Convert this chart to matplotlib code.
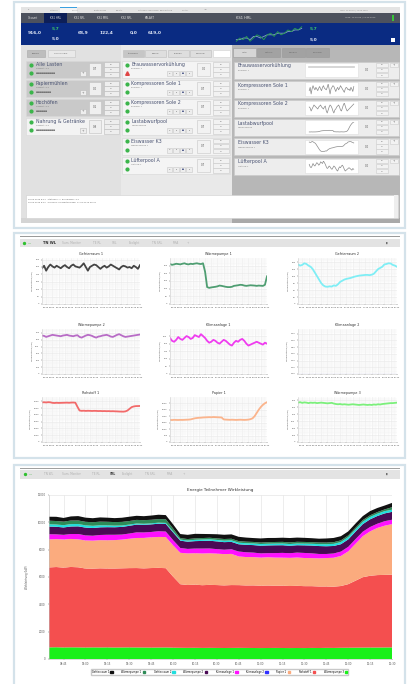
import numpy as np
import matplotlib
matplotlib.use('Agg')
import matplotlib.pyplot as plt
from matplotlib.patches import Rectangle
from matplotlib.ticker import MaxNLocator

# ---- data -------------------------------------------------------------
# 5-minute samples, 08:35 .. 12:30
minutes = 515 + 5 * np.arange(48)
tick_labels = ['08:45', '09:00', '09:15', '09:30', '09:45', '10:00', '10:15', '10:30',
               '10:45', '11:00', '11:15', '11:30', '11:45', '12:00', '12:15', '12:30']

gefrierraum1 = [290, 310, 270, 300, 320, 305, 295, 310, 300, 290,
                305, 315, 300, 290, 310, 320, 305, 300, 295, 310,
                330, 300, 270, 300, 310, 320, 315, 300, 285, 300,
                310, 295, 305, 320, 310, 300, 290, 280, 300, 310,
                305, 295, 300, 290, 310, 300, 285, 315]
waermepumpe1 = [260, 255, 258, 262, 260, 258, 262, 265, 260, 258,
                262, 260, 263, 265, 262, 260, 265, 210, 110, 105,
                108, 110, 112, 115, 120, 118, 115, 112, 110, 110,
                112, 118, 120, 122, 125, 124, 120, 118, 120, 122,
                121, 120, 118, 120, 119, 118, 125, 180]
gefrierraum2 = [170, 165, 168, 175, 172, 165, 160, 150, 135, 120,
                105, 90, 80, 75, 74, 76, 75, 80, 78, 85,
                95, 100, 105, 108, 110, 112, 115, 118, 120, 122,
                123, 124, 125, 125, 124, 126, 130, 140, 150, 155,
                160, 170, 172, 175, 174, 168, 165, 160]
waermepumpe2 = [560, 555, 540, 550, 560, 570, 565, 560, 555, 550,
                560, 565, 570, 560, 555, 550, 560, 565, 540, 530,
                545, 560, 570, 565, 555, 540, 530, 545, 550, 560,
                565, 570, 560, 545, 540, 555, 570, 580, 565, 550,
                540, 545, 550, 555, 560, 565, 570, 575]
klimaanlage1 = [380, 350, 340, 360, 390, 370, 360, 380, 400, 390,
                370, 380, 410, 400, 390, 420, 400, 380, 350, 330,
                340, 360, 350, 330, 320, 340, 360, 350, 330, 310,
                300, 330, 350, 340, 360, 370, 350, 320, 300, 310,
                320, 330, 340, 330, 320, 310, 330, 320]
klimaanlage2 = [0] * 48
papier1 = [2050, 2040, 2060, 2050, 2045, 2055, 2050, 2060, 2070, 2080,
           2100, 2150, 2200, 2230, 2250, 2260, 2280, 2290, 2300, 2310,
           2300, 2320, 2310, 2300, 2290, 2280, 2100, 2080, 2070, 2060,
           2070, 2060, 2050, 2060, 2070, 2060, 2050, 2060, 2080, 2120,
           2200, 2400, 2700, 3000, 3250, 3450, 3600, 3700]
rohstoff1 = [5850, 5870, 5840, 5880, 5860, 5780, 5760, 5790, 5770, 5780,
             5790, 5800, 5810, 5790, 5820, 5830, 5800, 5200, 4650, 4600,
             4620, 4590, 4610, 4600, 4580, 4600, 4590, 4570, 4580, 4560,
             4570, 4550, 4560, 4540, 4550, 4530, 4520, 4500, 4490, 4480,
             4520, 4650, 4900, 5150, 5250, 5300, 5310, 5320]
waermepumpe3 = [850, 860, 845, 855, 850, 840, 850, 845, 850, 840,
                845, 850, 845, 840, 835, 840, 845, 830, 820, 815,
                820, 810, 815, 810, 805, 810, 815, 810, 805, 800,
                805, 810, 805, 800, 805, 800, 810, 805, 815, 810,
                820, 825, 830, 835, 840, 840, 845, 850]

# top-to-bottom legend order
names = ['Gefrierraum 1', 'Wärmepumpe 1', 'Gefrierraum 2', 'Wärmepumpe 2',
         'Klimaanlage 1', 'Klimaanlage 2', 'Papier 1', 'Rohstoff 1', 'Wärmepumpe 3']
series = [gefrierraum1, waermepumpe1, gefrierraum2, waermepumpe2,
          klimaanlage1, klimaanlage2, papier1, rohstoff1, waermepumpe3]
area_colors = ['#111111', '#2e8b57', '#1fdede', '#4a0a55',
               '#ff10ff', '#3030ff', '#fbab7e', '#f44f4f', '#19f019']

grid_order = ['Gefrierraum 1', 'Wärmepumpe 1', 'Gefrierraum 2',
              'Wärmepumpe 2', 'Klimaanlage 1', 'Klimaanlage 2',
              'Rohstoff 1', 'Papier 1', 'Wärmepumpe 3']
line_colors = {'Gefrierraum 1': '#444444', 'Wärmepumpe 1': '#4f9e72',
               'Gefrierraum 2': '#7feef5', 'Wärmepumpe 2': '#b86cc6',
               'Klimaanlage 1': '#ef3cef', 'Klimaanlage 2': '#8080e0',
               'Rohstoff 1': '#f26a6a', 'Papier 1': '#fbb48c',
               'Wärmepumpe 3': '#7cf07c'}

# dashboard texts / values
kpi_values = ['916,0', '', '68,9', '122,4', '0,0', '619,0']
kpi_x = [28, 52, 78, 100, 130, 148]
kpi_ist = [2, 4, 3, 5, 2, 4, 6, 5, 3, 6, 7, 5, 8, 6, 7, 9, 8, 10, 9, 11]
kpi_soll = [3, 3, 4, 4, 3, 5, 5, 4, 5, 6, 6, 6, 7, 7, 7, 8, 8, 9, 9, 10]
top_tabs = ['Gesamt', 'KS1 HRL', 'KS1 SRL', 'KS1 MRL', 'KS2 SRL', 'KALAST']
left_cards = ['Alle Lasten', 'Papiermühlen', 'Hochöfen', 'Nahrung & Getränke']
left_sub = ['Gesamt: 6,4', 'Gesamt: 0,6', 'Gesamt: 0,4', 'Gesamt: 0,6']
left_vals = ['0,7', '0,0', '0,1', '0,8']
mid_cards = ['Brauwasservorkühlung', 'Kompressoren Sole 1', 'Kompressoren Sole 2',
             'Lastabwurfpool', 'Eiswasser K3', 'Lüfterpool A']
mid_sub = ['Brauerei 1', 'Brauerei 1', 'Brauerei 1', 'Wärmepumpe',
           'Wärmepumpe 1', 'Lüftung 1']
mid_vals = ['0,0', '0,7', '0,7', '0,7', '0,7', '0,7']
spark_data = [klimaanlage2, gefrierraum1, waermepumpe2, papier1, gefrierraum2, klimaanlage1]
log_lines = ['09.06.2015 8:21   Stationen: 1  Brauwasser: 5,0',
             '09.06.2015 8:22   Meldung: Sollwertvorgabe: 17.06.2015 09:30']

# ---- canvas -----------------------------------------------------------
W, H = 410, 684
fig = plt.figure(figsize=(W / 100, H / 100), dpi=100)
bg = fig.add_axes([0, 0, 1, 1])
bg.set_xlim(0, W)
bg.set_ylim(H, 0)
bg.axis('off')


def box(x0, y0, x1, y1, fc, ec='none', lw=0.4, z=1):
    bg.add_patch(Rectangle((x0, y0), x1 - x0, y1 - y0, facecolor=fc,
                           edgecolor=ec, linewidth=lw, zorder=z))


def txt(x, y, s, size=3, color='#333333', **kw):
    bg.text(x, y, s, fontsize=size, color=color, va='center', zorder=5, **kw)


def place(x0, y0, x1, y1):
    return fig.add_axes([x0 / W, 1 - y1 / H, (x1 - x0) / W, (y1 - y0) / H])


tick_pos = [int(t[:2]) * 60 + int(t[3:]) for t in tick_labels]

# frames of the three screenshots
for (y0, y1) in [(2, 228), (233, 458), (465, 690)]:
    box(14, y0, 405, y1, 'white', ec='#d4e2ea', lw=1.6, z=0)

# ---- screenshot 1: dashboard -----------------------------------------
box(21, 7, 400, 12.7, '#e4e4e4')
box(60, 7, 77, 12.7, '#f4f4f4')
box(60, 7, 77, 7.8, '#3aa0e0', z=2)
for k, s in enumerate(['Ex', 'Optionen', 'Layout', 'Einstellungen', 'Reports',
                       'Netzwerk Verbindung', 'Regelleistung', 'Fenster', 'Info']):
    txt(28 + k * 22, 10, s, 1.4, '#888888')
txt(340, 10, 'Lead: 11:00:00 / 14.06.2015', 1.4, '#888888')
box(21, 12.7, 400, 22.7, '#4d525e')
for k, s in enumerate(top_tabs):
    x0 = 21 + k * 23.5
    if k == 1:
        box(x0, 12.7, x0 + 23, 22.7, '#0d1f58')
    txt(x0 + 11.5, 17.7, s, 1.9, '#e0e0e0', ha='center')
txt(236, 17.7, 'KS1 HRL', 2.6, '#e8e8e8')
txt(345, 17.7, 'Lead: 11:00:00 / 14.06.2015', 1.5, '#cfcfcf')
box(392, 14.5, 394.5, 21, '#39c639', z=2)

box(21, 22.7, 400, 45, '#0a2b82')
for x, s in zip(kpi_x, kpi_values):
    if s:
        txt(x, 33, s, 3.2, '#dfe6f5', fontweight='bold')
txt(52, 29, '5,7', 3.2, '#3cc46a', fontweight='bold')
txt(52, 38.5, '5,0', 3.2, '#dfe6f5', fontweight='bold')
txt(310, 29, '5,7', 3.2, '#3cc46a', fontweight='bold')
txt(310, 39.5, '5,0', 3.2, '#dfe6f5', fontweight='bold')
box(391, 37.5, 395.5, 42, 'white', z=2)
kax = place(233, 26, 305, 42)
kax.plot(kpi_soll, color='#8aa0cc', lw=0.6)
kax.plot(kpi_ist, color='#2aa04e', lw=0.6)
kax.axis('off')

# content backgrounds
box(21, 45, 121, 218, '#e1e1e1')
box(121, 45, 232, 218, '#e9e9e9')
box(232, 45, 400, 218, '#b7b7b7')

# tab rows
box(27, 50, 45, 57, '#bdbdbd', ec='#aaaaaa')
txt(36, 53.5, 'Fläche', 1.7, '#555555', ha='center')
box(48, 50, 75, 57, '#e9e9e9', ec='#c4c4c4')
txt(61.5, 53.5, 'Technologie', 1.7, '#777777', ha='center')
for k, s in enumerate(['Standard', 'Ebene', 'Schnell', 'Vorrang']):
    x0 = 123 + k * 22.5
    box(x0, 49.5, x0 + 21, 57, '#c6c6c6' if k == 0 else '#dedede', ec='#bdbdbd')
    txt(x0 + 10.5, 53.3, s, 1.7, '#666666', ha='center')
box(213, 49.5, 230, 57, 'white', ec='#d0d0d0')
for k, s in enumerate(['Liste', 'Details', 'Verlauf', 'Planung']):
    x0 = 233 + k * 24.3
    box(x0, 48, x0 + 23, 57, '#d6d6d6' if k == 0 else '#a2a2a2', ec='#9a9a9a')
    txt(x0 + 11.5, 52.5, s, 1.7, '#6a6a6a', ha='center')

card_y = [61, 80, 99, 118, 137.5, 157]
green = '#3ab54a'

for i, name in enumerate(left_cards):
    y0 = card_y[i]
    box(26, y0, 120, y0 + 17, '#c9c9c9' if i < 3 else '#f3f3f3', ec='#d9d9d9')
    bg.plot([30.7, 30.7], [y0 + 3.8, y0 + 11.8], 'o', ms=2.0, color=green, zorder=6)
    txt(36, y0 + 3.6, name, 3.4, '#4a5372')
    txt(36, y0 + 7.6, left_sub[i], 1.5, '#7a7a7a')
    txt(36, y0 + 12, '■' * (10 - 2 * (i % 3)), 1.5, '#6a6a6a')
    box(80, y0 + 10, 86, y0 + 15, '#eeeeee', ec='#bbbbbb', z=2)
    txt(83, y0 + 12.5, '+', 2.2, '#666666', ha='center')
    box(89, y0 + 2, 101, y0 + 15, '#efefef', ec='#c0c0c0', z=2)
    txt(95, y0 + 8.5, left_vals[i], 2.0, '#555555', ha='center')
    for k, s in enumerate(['0,0', '0,7', '0,7']):
        box(104, y0 + 1 + k * 5.1, 119, y0 + 5.6 + k * 5.1, '#eeeeee', ec='#bdbdbd', z=2)
        txt(111.5, y0 + 3.3 + k * 5.1, s, 1.3, '#777777', ha='center')

for i, name in enumerate(mid_cards):
    y0 = card_y[i]
    box(122, y0, 230, y0 + 17, '#f4f4f4', ec='#d6d6d6')
    bg.plot([126.7], [y0 + 3.8], 'o', ms=2.0, color=green, zorder=6)
    if i == 0:
        bg.plot([126.7], [y0 + 12], '^', ms=2.6, color='#e04545', zorder=6)
    else:
        bg.plot([126.7], [y0 + 12], 'o', ms=2.0, color=green, zorder=6)
    txt(131.5, y0 + 3.6, name, 3.4, '#4a5372')
    txt(131.5, y0 + 7.6, mid_sub[i], 1.5, '#7a7a7a')
    for k, s in enumerate(['◂', '▸', '●', '▸']):
        box(167 + k * 6.5, y0 + 10, 172.5 + k * 6.5, y0 + 15, '#eeeeee', ec='#c8c8c8', z=2)
        txt(169.75 + k * 6.5, y0 + 12.5, s, 1.6, '#1a2a6a' if k == 2 else '#777777', ha='center')
    box(197, y0 + 2, 210, y0 + 15, '#f2f2f2', ec='#c8c8c8', z=2)
    txt(203.5, y0 + 8.5, mid_vals[i], 2.0, '#555555', ha='center')
    for k, s in enumerate(['0,0', '0,7', '0,7']):
        box(213, y0 + 1 + k * 5.1, 229, y0 + 5.6 + k * 5.1, '#f2f2f2', ec='#c8c8c8', z=2)
        txt(221, y0 + 3.3 + k * 5.1, s, 1.3, '#777777', ha='center')

for i, name in enumerate(mid_cards):
    y0 = card_y[i] + 0.5
    box(234, y0, 399, y0 + 17, '#ededed', ec='#c8c8c8')
    txt(238, y0 + 4.5, name, 3.4, '#4a5372')
    txt(238, y0 + 9, mid_sub[i], 1.5, '#7a7a7a')
    box(305, y0 + 1.5, 358, y0 + 15.5, 'white', ec='#dddddd', z=2)
    sax = place(307, y0 + 3, 356, y0 + 14)
    sax.plot(spark_data[i], color='#8a8a8a' if i else '#cfcfcf', lw=0.5 if i else 1.2)
    if i == 0:
        sax.set_ylim(-3, 1)
    sax.axis('off')
    txt(367, y0 + 8.5, '0,0', 2.0, '#555555', ha='center')
    for k, s in enumerate(['0,0', '0,7', '0,7']):
        box(376, y0 + 1 + k * 5.1, 388, y0 + 5.6 + k * 5.1, '#f2f2f2', ec='#cccccc', z=2)
        txt(382, y0 + 3.3 + k * 5.1, s, 1.3, '#777777', ha='center')
    box(390, y0 + 1, 398, y0 + 5.6, '#f2f2f2', ec='#cccccc', z=2)
    txt(394, y0 + 3.3, '+', 2.0, '#666666', ha='center')

box(26, 194.5, 398, 218, 'white', ec='#cfcfcf', z=2)
box(394.5, 195, 398, 218, '#eeeeee', z=3)
for k, s in enumerate(log_lines):
    txt(28, 199 + k * 3.3, s, 1.5, '#666666')
box(21, 218, 232, 223, '#d4d4d4')
box(232, 218, 400, 223, '#a9a9a9')

# ---- screenshot 2: small multiples ----------------------------------
box(20, 236.3, 400, 237.2, '#9a9a9a')
box(20, 238.5, 400, 247, '#e3e3e3')
bg.plot([24.5], [243], 'o', ms=1.4, color='#30c030', zorder=6)
txt(27, 243, 'TN2', 1.5, '#7ac47a')
txt(43, 243, 'TN WL', 2.6, '#333333', fontweight='bold')
for k, s in enumerate(['Sum. Monitor', 'TE RL', 'SRL', 'Ecolight', 'TN SRL', 'MRA', '+']):
    txt(62 + [0, 31, 50, 67, 90, 111, 125][k], 243, s, 2.1, '#b0b0b0')
txt(386, 243, '▮', 2.2, '#444444')

col_x = [(42, 140), (170, 267), (298, 397)]
row_y = [(258, 304), (329, 374), (397, 442)]
for n, name in enumerate(grid_order):
    (x0, x1), (y0, y1) = col_x[n % 3], row_y[n // 3]
    ax = place(x0, y0, x1, y1)
    vals = series[names.index(name)]
    ax.plot(minutes, vals, color=line_colors[name], lw=1.3 if max(vals) > 0 else 0.8)
    top = max(vals) * 1.13 if max(vals) > 0 else 1
    ax.set_ylim(0, top)
    ax.set_xlim(515, 750)
    ax.yaxis.set_major_locator(MaxNLocator(7))
    ax.set_xticks(tick_pos)
    ax.set_xticklabels(tick_labels)
    ax.tick_params(labelsize=1.5, length=0.8, width=0.3, pad=1, colors='#555555')
    ax.grid(True, color='#e8e8e8', lw=0.4)
    ax.minorticks_on()
    ax.grid(True, which='minor', color='#f2f2f2', lw=0.3)
    ax.tick_params(which='minor', length=0)
    for sp in ax.spines.values():
        sp.set_color('#cccccc')
        sp.set_linewidth(0.4)
    ax.spines['top'].set_visible(False)
    ax.spines['right'].set_visible(False)
    ax.set_title(name, fontsize=2.4, pad=2.5, color='#333333')
    ax.set_ylabel('Wirkleistung (kW)', fontsize=1.6, labelpad=2, color='#555555')

# ---- screenshot 3: stacked area ----------------------------------------
box(20, 468, 400, 469, '#a0a0a0')
box(20, 470, 400, 478.5, '#e3e3e3')
bg.plot([25], [474.3], 'o', ms=1.4, color='#30c030', zorder=6)
txt(28, 474.3, 'TN2', 1.5, '#7ac47a')
for k, s in enumerate(['TN WL', 'Sum. Monitor', 'TE RL', 'SRL', 'Ecolight', 'TN SRL', 'MRA', '+']):
    txt(44 + [0, 18, 48, 66, 78, 101, 123, 139][k], 474.3, s, 2.1,
        '#333333' if s == 'SRL' else '#b0b0b0',
        fontweight='bold' if s == 'SRL' else 'normal')
txt(386, 474.3, '▮', 2.2, '#444444')

ax = place(49, 495, 392, 659)
ax.stackplot(minutes, *series[::-1], colors=area_colors[::-1], lw=0)
ax.set_xlim(515, 750)
ax.set_ylim(0, 12000)
ax.set_yticks(range(0, 12001, 2000))
ax.set_xticks(tick_pos)
ax.set_xticklabels(tick_labels)
ax.tick_params(labelsize=1.9, length=1, width=0.3, pad=1.5, colors='#555555')
ax.grid(True, color='#e6e6e6', lw=0.5)
ax.set_axisbelow(True)
for sp in ax.spines.values():
    sp.set_color('#bbbbbb')
    sp.set_linewidth(0.4)
ax.spines['top'].set_visible(False)
ax.spines['right'].set_visible(False)
ax.set_title('Energie Teilnehmer Wirkleistung', fontsize=3, pad=3, color='#333333')
ax.set_ylabel('Wirkleistung (kW)', fontsize=1.9, labelpad=6, color='#555555')

handles = [Rectangle((0, 0), 1, 1, color=c) for c in area_colors]
fig.legend(handles, names, ncol=9, loc='center', bbox_to_anchor=(219.5 / W, 1 - 672 / H),
           fontsize=1.8, markerfirst=False, frameon=True, edgecolor='#bbbbbb',
           handlelength=1.0, handleheight=0.9, handletextpad=0.5, columnspacing=3.4,
           borderpad=0.4, fancybox=False)

fig.savefig('out.png', dpi=100)
